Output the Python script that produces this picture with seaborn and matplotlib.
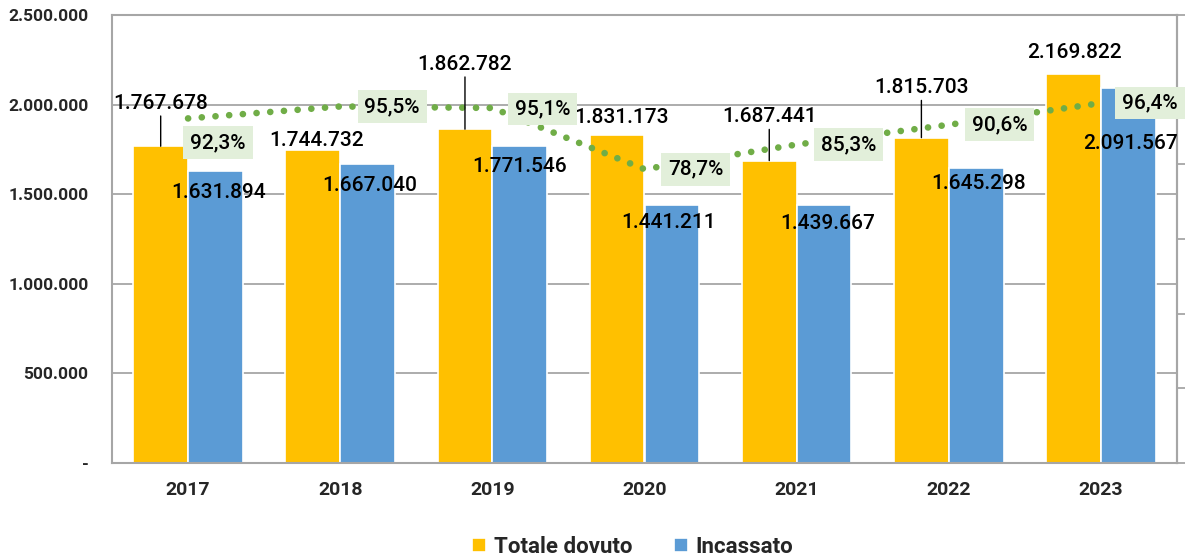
import numpy as np
import pandas as pd
import matplotlib as mpl
mpl.use('Agg')
import matplotlib.pyplot as plt
import seaborn as sns
from matplotlib.ticker import FuncFormatter, MultipleLocator

# dati
anni = ['2017', '2018', '2019', '2020', '2021', '2022', '2023']
totale_dovuto = [1767678, 1744732, 1862782, 1831173, 1687441, 1815703, 2169822]
incassato = [1631894, 1667040, 1771546, 1441211, 1439667, 1645298, 2091567]
perc_incasso = [92.3, 95.5, 95.1, 78.7, 85.3, 90.6, 96.4]
serie = ['Totale dovuto', 'Incassato']

# offset etichette (pixel) e linee guida
off_tot = [(0, 43), (4, 10), (0, 65), (4, 17), (0, 44), (0, 50), (1, 22)]
leader_tot = [True, False, True, False, True, True, False]
off_inc = [(3, -22), (2, -21), (0, -21), (-3, -18), (4, -18), (2, -15), (2, -55)]
off_perc = [(30, -24), (52, 0), (50, -1), (51, 0), (52, 0), (51, 0), (49, 0)]

sns.set_style('white')
plt.rcParams['font.family'] = ['Roboto', 'DejaVu Sans']

df = pd.DataFrame({'Anno': anni * 2,
                   'Valore': totale_dovuto + incassato,
                   'Serie': [serie[0]] * len(anni) + [serie[1]] * len(anni)})

fig = plt.figure(figsize=(11.85, 5.6), dpi=100)
ax = fig.add_axes([112 / 1185, 97 / 560, 1065 / 1185, 448 / 560])

sns.barplot(data=df, x='Anno', y='Valore', hue='Serie', hue_order=serie,
            palette=['#FFC000', '#5B9BD5'], saturation=1, width=0.72,
            edgecolor='white', linewidth=1.2, ax=ax)

ax.set_xlim(-0.5, len(anni) - 0.5)
ax.set_ylim(0, 2500000)
ax.yaxis.set_major_locator(MultipleLocator(500000))
ax.yaxis.set_major_formatter(FuncFormatter(
    lambda v, p: '-' if v == 0 else f'{int(v):,}'.replace(',', '.')))
ax.grid(axis='y', color='#A6A6A6', lw=1.3)
ax.set_axisbelow(True)
for s in ax.spines.values():
    s.set_color('#A6A6A6')
    s.set_linewidth(1.5)
ax.tick_params(axis='y', length=0, pad=17, labelsize=12.5)
ax.tick_params(axis='x', length=0, pad=13, labelsize=14)
for t in ax.get_xticklabels() + ax.get_yticklabels():
    t.set_fontweight('bold')
ax.set_xlabel('')
ax.set_ylabel('')

leg = ax.legend(loc='center', bbox_to_anchor=(0.489, -0.1875), ncol=2, frameon=False,
                handlelength=0.6, handleheight=0.6, handletextpad=0.35, columnspacing=1.9,
                prop={'weight': 'bold', 'size': 16})

# asse secondario percentuale
ax2 = ax.twinx()
ax2.set_ylim(0, 1.2)
ax2.yaxis.set_major_locator(MultipleLocator(0.2))
ax2.tick_params(axis='y', direction='out', length=6, width=1.3, color='#A6A6A6',
                labelright=False)
for k, s in ax2.spines.items():
    s.set_visible(k == 'right')
ax2.spines['right'].set_color('#A6A6A6')
ax2.spines['right'].set_linewidth(1.5)

bars_tot = ax.containers[0]
bars_inc = ax.containers[1]
centri = [pt.get_x() + pt.get_width() for pt in bars_tot]
perc = np.array(perc_incasso) / 100

sns.lineplot(x=centri, y=perc, ax=ax2, color='#70AD47', lw=4.8,
             linestyle=(0, (0.01, 2.05)), dash_capstyle='round', legend=False)
ax2.set_xlim(-0.5, len(anni) - 0.5)

lab_kw = dict(ha='center', va='center', fontsize=15, fontweight='medium',
              color='black', textcoords='offset pixels', annotation_clip=False)

for i, pt in enumerate(bars_tot):
    xy = (pt.get_x() + pt.get_width() / 2, pt.get_height())
    txt = f'{totale_dovuto[i]:,}'.replace(',', '.')
    arrow = None
    if leader_tot[i]:
        arrow = dict(arrowstyle='-', color='black', lw=1, shrinkA=0, shrinkB=0,
                     relpos=(0.5, 0))
    ax2.annotate(txt, xy=xy, xycoords=ax.transData, xytext=off_tot[i],
                 arrowprops=arrow, zorder=5, **lab_kw)

for i, pt in enumerate(bars_inc):
    xy = (pt.get_x() + pt.get_width() / 2, pt.get_height())
    txt = f'{incassato[i]:,}'.replace(',', '.')
    ax2.annotate(txt, xy=xy, xycoords=ax.transData, xytext=off_inc[i],
                 zorder=5, **lab_kw)

for i, c in enumerate(centri):
    txt = f'{perc_incasso[i]:.1f}%'.replace('.', ',')
    ax2.annotate(txt, xy=(c, perc[i]), xycoords=ax2.transData, xytext=off_perc[i],
                 bbox=dict(boxstyle='square,pad=0.33', fc='#E2EFDA', ec='none'),
                 zorder=6, **lab_kw)

fig.savefig('out.png', dpi=100)
